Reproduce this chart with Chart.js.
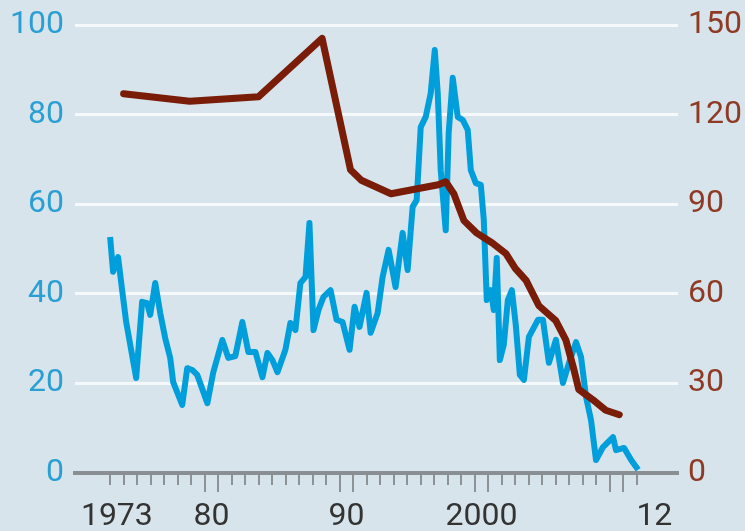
<!DOCTYPE html>
<html>
<head>
<meta charset="utf-8">
<script src="https://cdn.jsdelivr.net/npm/chart.js@4"></script>
<style>
  html, body { margin: 0; padding: 0; background: #d7e4ec; }
  #wrap { width: 745px; height: 531px; }
</style>
</head>
<body>
<div id="wrap"><canvas id="myChart" width="745" height="531"></canvas></div>
<script>
// blue series, left axis (0-100)
const blueYears = [
  1973.00, 1973.22, 1973.59, 1973.89, 1974.19, 1974.93, 1975.37, 1975.74, 1975.97, 1976.34,
  1976.71, 1977.08, 1977.45, 1977.67, 1978.34, 1978.71, 1979.08, 1979.45, 1980.20, 1980.64,
  1981.31, 1981.75, 1982.27, 1982.79, 1983.24, 1983.76, 1984.28, 1984.65, 1985.02, 1985.39,
  1985.98, 1986.35, 1986.72, 1987.09, 1987.47, 1987.76, 1988.06, 1988.43, 1988.80, 1989.32,
  1989.77, 1990.21, 1990.73, 1991.10, 1991.47, 1991.99, 1992.29, 1992.81, 1993.18, 1993.62,
  1994.14, 1994.66, 1995.03, 1995.40, 1995.70, 1996.00, 1996.37, 1996.74, 1997.04, 1997.26,
  1997.48, 1997.85, 1998.07, 1998.37, 1998.74, 1999.11, 1999.48, 1999.71, 2000.08, 2000.45,
  2000.67, 2000.89, 2001.19, 2001.41, 2001.63, 2001.86, 2002.15, 2002.45, 2002.75, 2003.04,
  2003.34, 2003.64, 2004.01, 2004.68, 2005.05, 2005.49, 2006.01, 2006.53, 2006.98, 2007.50,
  2007.87, 2008.24, 2008.61, 2008.98, 2009.50, 2010.24, 2010.46, 2011.06, 2011.58, 2012.10
];
const blueValues = [
  52.7, 44.9, 48.2, 40.8, 33.7, 21.2, 38.2, 37.9, 35.3, 42.4,
  35.7, 30.1, 25.7, 20.3, 15.2, 23.4, 23.0, 21.9, 15.6, 22.5,
  29.7, 25.7, 26.1, 33.7, 27.0, 27.0, 21.4, 26.8, 25.2, 22.5,
  27.5, 33.5, 31.9, 42.4, 43.8, 55.8, 31.9, 36.4, 39.3, 40.8,
  34.2, 33.7, 27.5, 37.1, 32.6, 40.2, 31.3, 35.7, 43.8, 49.8,
  41.5, 53.6, 45.3, 59.4, 60.9, 77.2, 79.5, 84.8, 94.4, 84.8,
  67.6, 54.2, 75.9, 88.2, 79.5, 78.8, 76.6, 67.6, 64.7, 64.3,
  56.5, 38.6, 40.8, 36.4, 48.0, 25.2, 28.6, 38.6, 40.8, 33.0,
  21.9, 20.8, 30.4, 34.2, 34.2, 24.6, 29.7, 20.1, 24.6, 29.2,
  25.9, 17.0, 11.8, 2.9, 5.8, 8.0, 5.1, 5.6, 2.9, 0.7
];

// brown series, right axis (0-150)
const brownYears = [
  1974.0, 1978.9, 1984.0, 1988.7, 1990.8, 1991.6, 1993.8, 1997.3, 1997.85, 1998.45,
  1999.2, 2000.1, 2001.3, 2002.3, 2003.0, 2003.8, 2004.75, 2006.0, 2006.75, 2007.35,
  2007.7, 2008.75, 2009.7, 2010.7
];
const brownValues = [
  127, 124.5, 126, 145.5, 101.5, 98, 93.5, 96.5, 97.5, 93.5,
  84.5, 80.5, 77, 73.5, 68.5, 64.5, 56, 51, 44.5, 34.5,
  28, 24.5, 21, 19.5
];

// x axis
const xMin = 1970.4;
const xMax = 2015.05;
const xLabelPos = [1973.5, 1980.5, 1990.5, 2000.5, 2013.3];
const xLabels = ['1973', '80', '90', '2000', '12'];
const yearTicks = [];
for (let y = 1973; y <= 2012; y++) yearTicks.push(y);
const longTicks = [1980, 1981, 1990, 1991, 2000, 2001, 2010, 2011];

const font = { family: 'Roboto', size: 32 };

const yearTickPlugin = {
  id: 'yearTicks',
  beforeDatasetsDraw(chart) {
    const c = chart.ctx;
    const xs = chart.scales.x;
    const base = chart.chartArea.bottom + 2;
    c.save();
    c.strokeStyle = '#8d9296';
    c.lineWidth = 2;
    yearTicks.forEach(yr => {
      const px = Math.round(xs.getPixelForValue(yr));
      c.beginPath();
      c.moveTo(px, base);
      c.lineTo(px, base + (longTicks.includes(yr) ? 17 : 10));
      c.stroke();
    });
    c.restore();
  }
};

// keep the plot area where the original has it
const noPad = (s) => { s.paddingTop = 0; s.paddingBottom = 0; };

const ctx = document.getElementById('myChart');

new Chart(ctx, {
  type: 'line',
  data: {
    datasets: [
      {
        data: blueYears.map((x, i) => ({ x: x, y: blueValues[i] })),
        borderColor: '#009fdb',
        borderWidth: 6,
        pointRadius: 0,
        tension: 0,
        borderJoinStyle: 'round',
        yAxisID: 'y',
        order: 2
      },
      {
        data: brownYears.map((x, i) => ({ x: x, y: brownValues[i] })),
        borderColor: '#7a1d08',
        borderWidth: 7,
        pointRadius: 0,
        tension: 0,
        borderJoinStyle: 'round',
        borderCapStyle: 'round',
        yAxisID: 'y1',
        order: 1
      }
    ]
  },
  options: {
    responsive: false,
    animation: false,
    layout: { padding: { top: 25, left: 0, right: 0, bottom: 0 } },
    plugins: {
      legend: { display: false },
      tooltip: { enabled: false }
    },
    scales: {
      x: {
        type: 'linear',
        min: xMin,
        max: xMax,
        afterBuildTicks(s) { s.ticks = xLabelPos.map(v => ({ value: v })); },
        afterFit(s) { s.height = 58; },
        ticks: {
          color: '#333333',
          font: font,
          padding: 17,
          maxRotation: 0,
          autoSkip: false,
          callback: (v) => xLabels[xLabelPos.indexOf(v)]
        },
        grid: { display: false },
        border: { display: true, color: '#8a8f93', width: 4 }
      },
      y: {
        position: 'left',
        min: 0,
        max: 100,
        afterFit(s) { s.width = 75; noPad(s); },
        ticks: { stepSize: 20, color: '#2a9fd4', font: font, padding: 11 },
        grid: {
          drawTicks: false,
          lineWidth: 3,
          color: (c) => c.tick && c.tick.value === 0 ? 'rgba(0,0,0,0)' : '#f6f9fb'
        },
        border: { display: false }
      },
      y1: {
        position: 'right',
        min: 0,
        max: 150,
        afterFit(s) { s.width = 67; noPad(s); },
        ticks: { stepSize: 30, color: '#8e3a24', font: font, padding: 10 },
        grid: { display: false, drawTicks: false },
        border: { display: false }
      }
    }
  },
  plugins: [yearTickPlugin]
});
</script>
</body>
</html>
